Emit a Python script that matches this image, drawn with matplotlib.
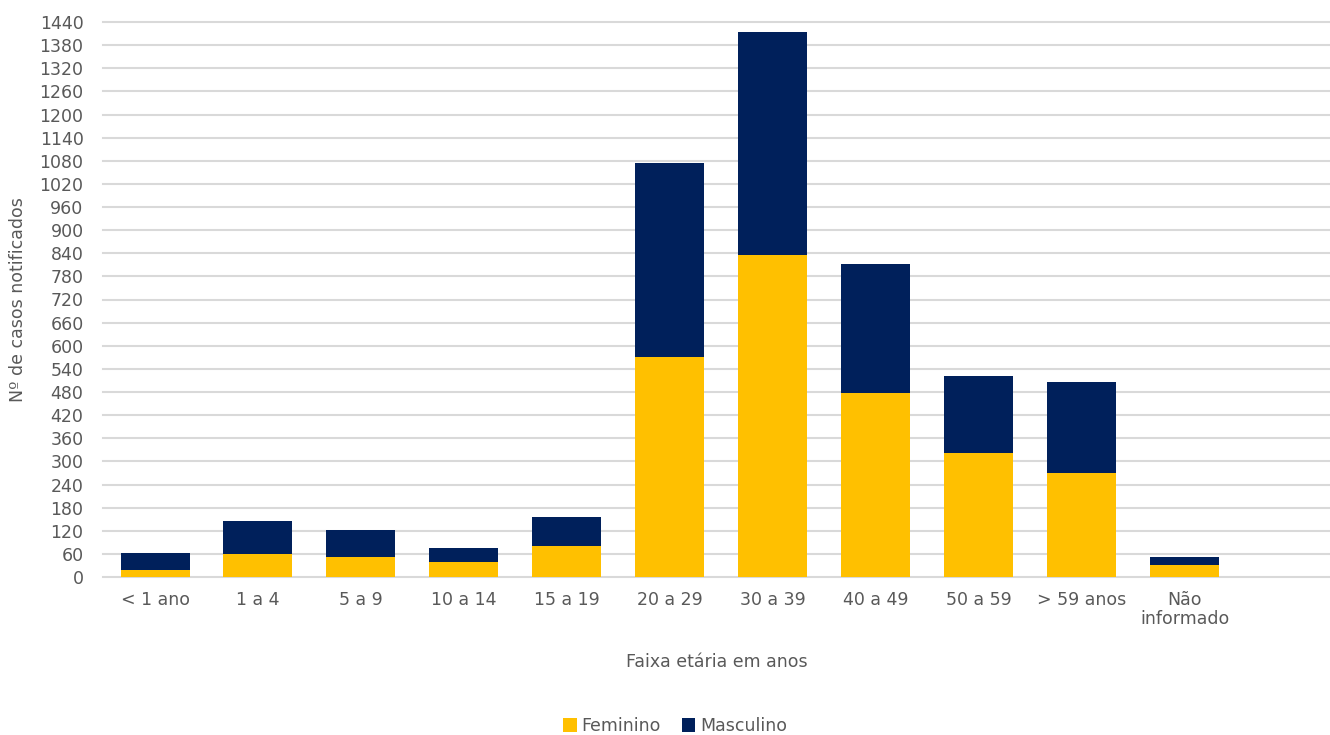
import matplotlib
matplotlib.use("Agg")
import matplotlib.pyplot as plt
import numpy as np

categories = ["< 1 ano", "1 a 4", "5 a 9", "10 a 14", "15 a 19", "20 a 29",
              "30 a 39", "40 a 49", "50 a 59", "> 59 anos", "Não\ninformado"]
feminino = [18, 60, 52, 39, 80, 571, 835, 477, 321, 271, 31]
total = [62, 145, 122, 75, 155, 1073, 1413, 811, 522, 505, 52]
masculino = [t - f for t, f in zip(total, feminino)]
yticks = list(range(0, 1441, 60))

plt.rcParams['font.family'] = ['DejaVu Sans']
gray = '#595959'

fig = plt.figure(figsize=(13.3, 7.35), dpi=100)
ax = fig.add_axes([103/1330, 1 - 577/735, 1 - 103/1330, (577 - 22)/735])

x = np.arange(len(categories))
w = 0.67
ax.bar(x, feminino, w, color='#FFC000', label='Feminino', zorder=3)
ax.bar(x, masculino, w, bottom=feminino, color='#00205B', label='Masculino', zorder=3)

ax.set_ylim(0, 1440)
ax.set_xlim(-0.505, 11.41)
ax.set_yticks(yticks)
ax.set_yticklabels([str(v) for v in yticks], fontsize=12.5, color=gray)
ax.set_xticks(x)
ax.set_xticklabels(categories, fontsize=12.5, color=gray, linespacing=1.1)
ax.tick_params(axis='both', length=0)
ax.tick_params(axis='x', pad=10)
ax.tick_params(axis='y', pad=14)
ax.grid(axis='y', color='#D9D9D9', linewidth=1.5, zorder=0)
for gl in ax.get_ygridlines():
    gl.set_clip_on(False)
for s in ax.spines.values():
    s.set_visible(False)

ax.set_xlabel("Faixa etária em anos", fontsize=12.5, color=gray, labelpad=18)
fig.text(18/1330, 1 - 300/735, "Nº de casos notificados", rotation=90,
         fontsize=12.5, color=gray, ha='center', va='center')

leg = fig.legend(loc='center', bbox_to_anchor=(675/1330, 1 - 726/735), ncol=2,
                 frameon=False, fontsize=12.5, handlelength=0.8, handleheight=0.8,
                 handletextpad=0.25, columnspacing=1.2)
for t in leg.get_texts():
    t.set_color(gray)

fig.savefig("out.png", dpi=100)
